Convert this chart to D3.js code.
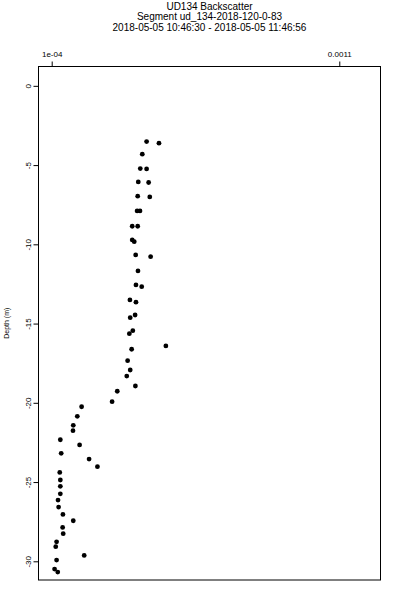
<!DOCTYPE html>
<html>
<head>
<meta charset="utf-8">
<script src="https://cdn.jsdelivr.net/npm/d3@7"></script>
<style>
  body { margin: 0; background: #fff; }
  svg { display: block; font-family: "Liberation Sans", Arial, sans-serif; }
</style>
</head>
<body>
<div id="chart"></div>
<script>
// title lines
const titleLines = [
  "UD134 Backscatter",
  "Segment ud_134-2018-120-0-83",
  "2018-05-05 10:46:30 - 2018-05-05 11:46:56"
]

// depth (m) and backscatter values
const depth = [
  -3.52, -3.62, -4.31, -5.22, -5.24, -6.06, -6.10, -6.96, -7.01, -7.89,
  -7.89, -8.86, -8.86, -9.72, -9.83, -10.67, -10.78, -11.68, -12.56, -12.67,
  -13.51, -13.65, -14.46, -14.63, -15.45, -15.64, -16.41, -16.62, -17.34, -17.93,
  -18.31, -18.94, -19.27, -19.93, -20.25, -20.85, -21.42, -21.76, -22.33, -22.66,
  -23.19, -23.55, -24.03, -24.39, -24.87, -25.27, -25.74, -26.14, -26.58, -27.04,
  -27.44, -27.86, -28.26, -28.77, -29.08, -29.63, -29.92, -30.49, -30.68
]
const backscatter = [
  4.30e-4, 4.73e-4, 4.15e-4, 4.08e-4, 4.30e-4, 4.01e-4, 4.37e-4, 3.99e-4, 4.41e-4, 3.97e-4,
  4.07e-4, 3.80e-4, 3.99e-4, 3.80e-4, 3.87e-4, 3.92e-4, 4.44e-4, 4.00e-4, 3.93e-4, 4.13e-4,
  3.72e-4, 3.93e-4, 3.90e-4, 3.73e-4, 3.82e-4, 3.70e-4, 4.97e-4, 3.78e-4, 3.64e-4, 3.73e-4,
  3.61e-4, 3.91e-4, 3.28e-4, 3.10e-4, 2.04e-4, 1.89e-4, 1.75e-4, 1.74e-4, 1.30e-4, 1.97e-4,
  1.33e-4, 2.30e-4, 2.59e-4, 1.28e-4, 1.30e-4, 1.30e-4, 1.30e-4, 1.22e-4, 1.24e-4, 1.39e-4,
  1.75e-4, 1.38e-4, 1.40e-4, 1.17e-4, 1.14e-4, 2.13e-4, 1.17e-4, 1.10e-4, 1.21e-4
]

const xTicks = [1e-4, 0.0011]
const xTickLabels = ["1e-04", "0.0011"]
const yTicks = [0, -5, -10, -15, -20, -25, -30]

const W = 400, H = 600
const margin = {top: 66.5, right: 19.5, bottom: 20, left: 38.5}

const svg = d3.select("#chart").append("svg")
  .attr("width", W)
  .attr("height", H)

// x: linear, plot box spans slightly beyond the two ticks
const x = d3.scaleLinear()
  .domain([5.41e-5, 1.2433e-3])
  .range([margin.left, W - margin.right])

const y = d3.scaleLinear()
  .domain([1.22, -31.18])
  .range([margin.top, H - margin.bottom])

// title
svg.append("g").selectAll("text")
  .data(titleLines)
  .enter().append("text")
    .attr("x", (margin.left + W - margin.right) / 2)
    .attr("y", (d, i) => 10 + i * 10.3)
    .attr("text-anchor", "middle")
    .style("font-size", "10px")
    .text(d => d)

// top axis
const xAxis = d3.axisTop(x)
  .tickValues(xTicks)
  .tickFormat((d, i) => xTickLabels[i])
  .tickSize(5)
  .tickPadding(5)
svg.append("g")
  .attr("transform", `translate(0,${margin.top})`)
  .call(xAxis)
  .call(g => g.select(".domain").remove())
  .call(g => g.selectAll("text").style("font-size", "8px").style("font-family", "Liberation Sans, Arial, sans-serif"))
  .call(g => g.selectAll("line").attr("stroke", "#000"))

// left axis
const yAxis = d3.axisLeft(y)
  .tickValues(yTicks)
  .tickSize(5)
  .tickFormat(d => String(d))
svg.append("g")
  .attr("transform", `translate(${margin.left},0)`)
  .call(yAxis)
  .call(g => g.select(".domain").remove())
  .call(g => g.selectAll("line").attr("stroke", "#000"))
  .call(g => g.selectAll("text")
    .attr("x", null).attr("dy", null)
    .attr("text-anchor", "middle")
    .attr("transform", "translate(-8,0) rotate(-90)")
    .attr("y", 0)
    .style("font-size", "8px")
    .style("font-family", "Liberation Sans, Arial, sans-serif"))

// plot frame
svg.append("rect")
  .attr("x", margin.left)
  .attr("y", margin.top)
  .attr("width", W - margin.right - margin.left)
  .attr("height", H - margin.bottom - margin.top)
  .attr("fill", "none")
  .attr("stroke", "#000")
  .attr("stroke-width", 1)

// y label
svg.append("text")
  .attr("transform", `translate(9,${(margin.top + H - margin.bottom) / 2}) rotate(-90)`)
  .attr("text-anchor", "middle")
  .style("font-size", "7px")
  .text("Depth (m)")

// points
svg.append("g").selectAll("circle")
  .data(depth.map((d, i) => ({depth: d, value: backscatter[i]})))
  .enter().append("circle")
    .attr("cx", d => x(d.value))
    .attr("cy", d => y(d.depth))
    .attr("r", 2.4)
    .attr("fill", "#000")
</script>
</body>
</html>
